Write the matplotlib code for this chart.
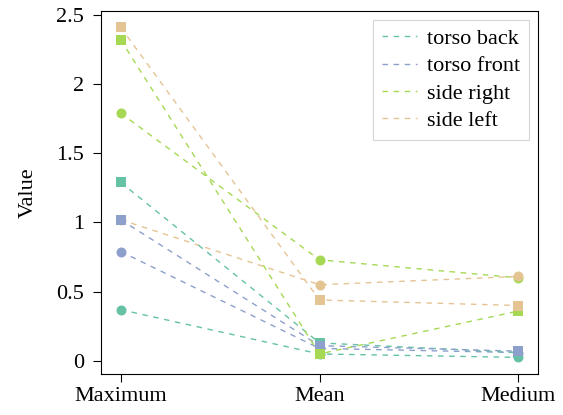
import matplotlib.pyplot as plt
from matplotlib.lines import Line2D

plt.rcParams['font.family'] = ['Liberation Serif', 'DejaVu Serif']
plt.rcParams['font.size'] = 16

stats = ['Maximum', 'Mean', 'Medium']
names = ['torso back', 'torso front', 'side right', 'side left']
colors = ['#66c2a5', '#8da0cb', '#a6d854', '#e5c494']

# circle series
torso_back_c = [0.37, 0.05, 0.025]
torso_front_c = [0.79, 0.09, 0.06]
side_right_c = [1.79, 0.73, 0.60]
side_left_c = [1.02, 0.55, 0.61]

# square series
torso_back_s = [1.29, 0.13, 0.06]
torso_front_s = [1.02, 0.11, 0.07]
side_right_s = [2.32, 0.05, 0.36]
side_left_s = [2.41, 0.44, 0.40]

circles = [torso_back_c, torso_front_c, side_right_c, side_left_c]
squares = [torso_back_s, torso_front_s, side_right_s, side_left_s]

fig = plt.figure(figsize=(5.63, 4.15), dpi=100)
ax = fig.add_axes([0.179, 0.099, 0.777, 0.875])

x = range(len(stats))
dash = (4, 4)
for vals, c in zip(circles, colors):
    ax.plot(x, vals, color=c, linestyle='--', dashes=dash, linewidth=1,
            marker='o', markersize=7.2, markeredgewidth=0)
for vals, c in zip(squares, colors):
    ax.plot(x, vals, color=c, linestyle='--', dashes=dash, linewidth=1,
            marker='s', markersize=7.2, markeredgewidth=0)

ax.set_xticks(list(x))
ax.set_xticklabels(stats)
ax.set_yticks([0, 0.5, 1, 1.5, 2, 2.5])
ax.set_yticklabels(['0', '0.5', '1', '1.5', '2', '2.5'])
ax.set_ylabel('Value', labelpad=13)
ax.tick_params(direction='out', length=6)
ax.tick_params(axis='y', pad=6)

handles = [Line2D([0], [0], color=c, linestyle='--', dashes=dash, linewidth=1)
           for c in colors]
leg = ax.legend(handles, names, loc='upper right', fancybox=False,
                handlelength=1.6, handletextpad=0.45, borderpad=0.4,
                labelspacing=0.3, borderaxespad=0.4)
leg.get_frame().set_edgecolor('#cccccc')
leg.get_frame().set_linewidth(0.8)

fig.savefig('out.png')
